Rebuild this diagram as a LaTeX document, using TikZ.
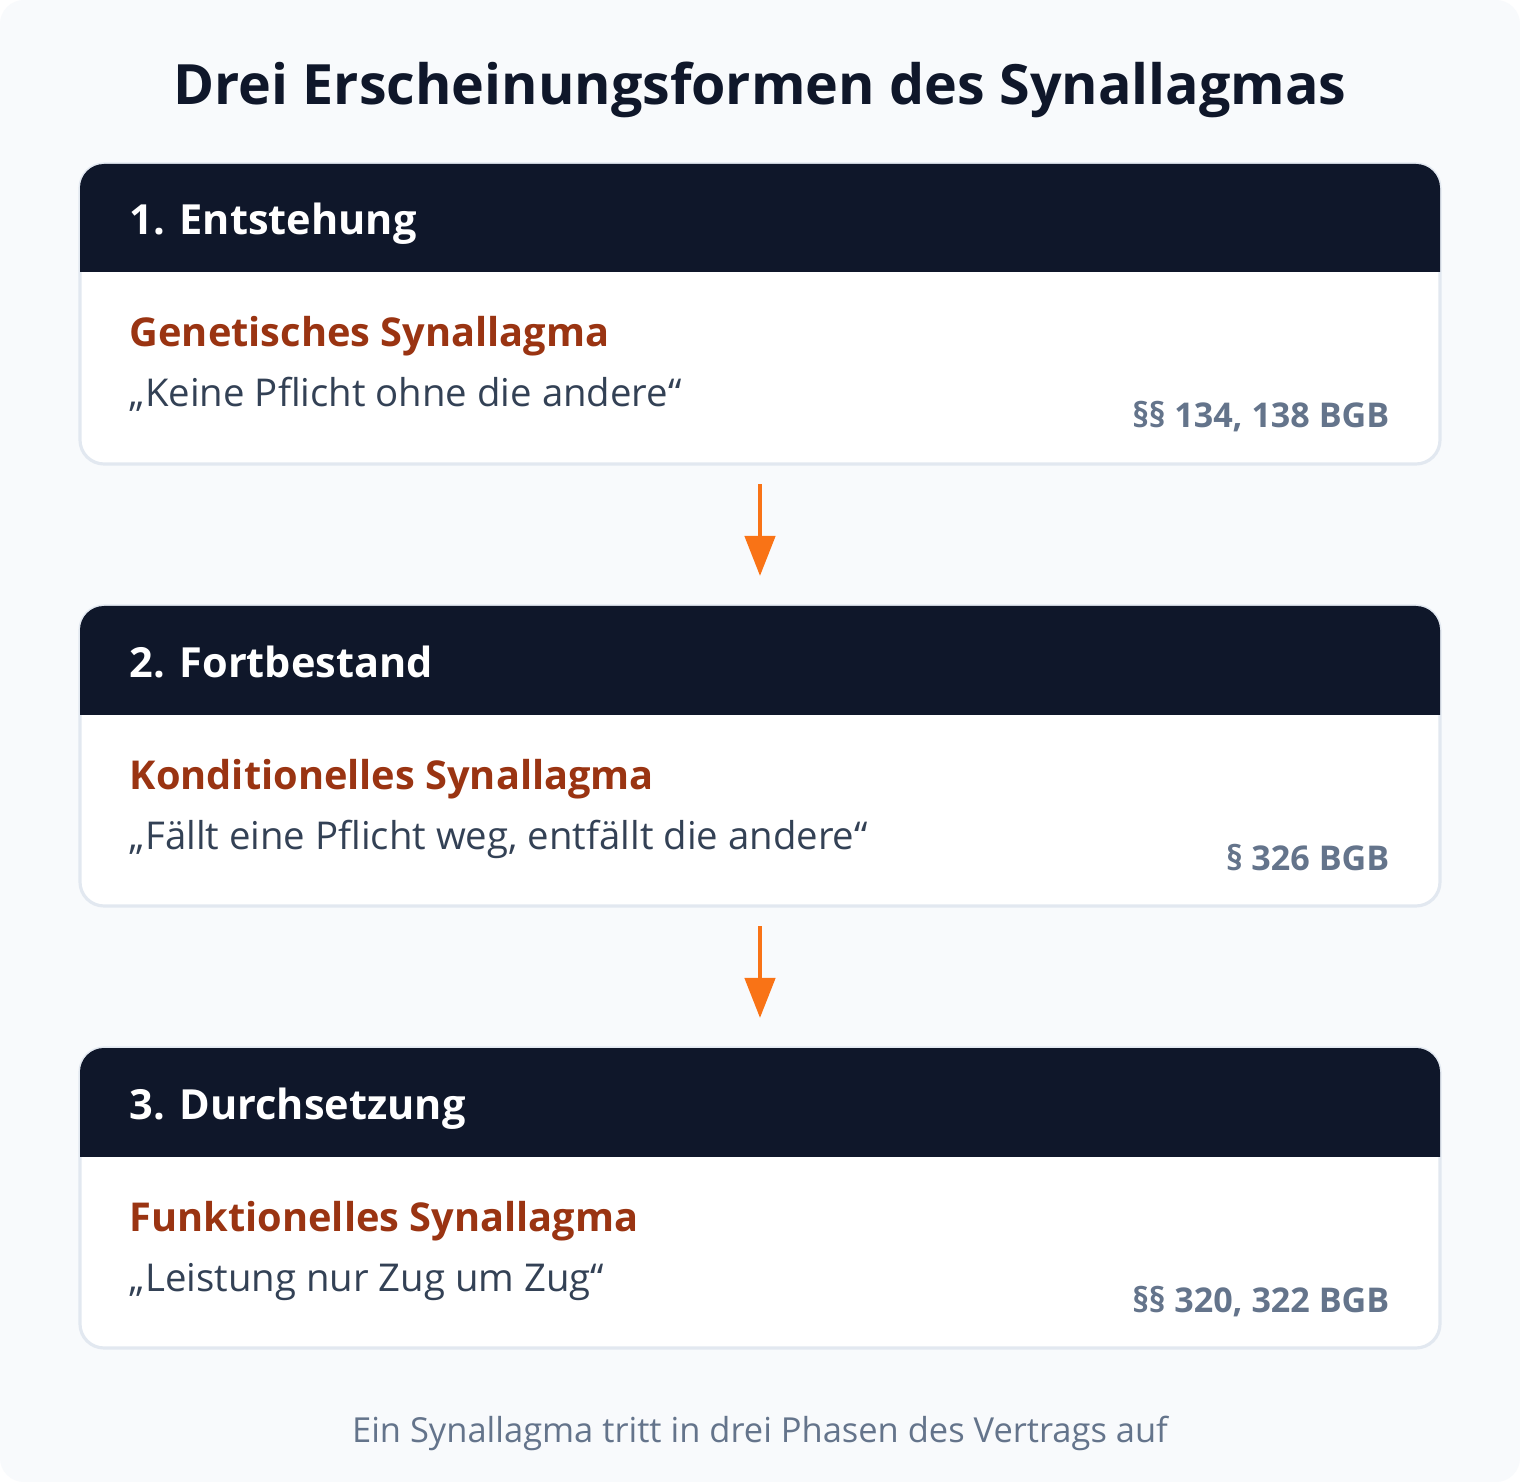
\documentclass[tikz,border=0pt]{standalone}
\usepackage{fontspec}
\setmainfont{Open Sans}
\usetikzlibrary{arrows.meta}

\definecolor{pagebg}{HTML}{F8FAFC}
\definecolor{cardline}{HTML}{E2E8F0}
\definecolor{headbg}{HTML}{0F172A}
\definecolor{subred}{HTML}{9A3412}
\definecolor{quotegray}{HTML}{334155}
\definecolor{refgray}{HTML}{64748B}
\definecolor{arroworange}{HTML}{F97316}

\tikzset{
  card/.style={draw=cardline,line width=0.9pt,fill=white,rounded corners=0.24cm},
  headtext/.style={anchor=base west,inner sep=0,text=white,font=\fontsize{11.8}{14}\selectfont\bfseries},
  subtext/.style={anchor=base west,inner sep=0,text=subred,font=\fontsize{11.3}{13}\selectfont\bfseries},
  quotetext/.style={anchor=base west,inner sep=0,text=quotegray,font=\fontsize{10.9}{13}\selectfont},
  reftext/.style={anchor=base east,inner sep=0,text=refgray,font=\fontsize{9.7}{12}\selectfont\bfseries},
  flow/.style={draw=arroworange,line width=1.3pt,-{Triangle[width=0.3cm,length=0.4cm]}}
}

\begin{document}
\begin{tikzpicture}[x=0.01cm,y=-0.01cm]
\useasboundingbox (0,0) rectangle (1520,1482);
\fill [white] (0,0) rectangle (1520,1482);
\fill [pagebg,rounded corners=0.24cm] (0,0) rectangle (1520,1482);

\node [anchor=base,inner sep=0,text=headbg,font=\fontsize{15.8}{19}\selectfont\bfseries] (title) at (760,105) {Drei Erscheinungsformen des Synallagmas};

% cards
\draw [card] (80,164) rectangle (1440,464);
\draw [card] (80,606) rectangle (1440,906);
\draw [card] (80,1048) rectangle (1440,1348);

% dark headers
\begin{scope}
\clip (80,164) rectangle (1440,272);
\fill [headbg,rounded corners=0.24cm] (80,164) rectangle (1440,464);
\end{scope}
\begin{scope}
\clip (80,606) rectangle (1440,714);
\fill [headbg,rounded corners=0.24cm] (80,606) rectangle (1440,906);
\end{scope}
\begin{scope}
\clip (80,1048) rectangle (1440,1156);
\fill [headbg,rounded corners=0.24cm] (80,1048) rectangle (1440,1348);
\end{scope}

\coordinate (bottom1) at (760,464);
\coordinate (top2) at (760,606);
\coordinate (bottom2) at (760,906);
\coordinate (top3) at (760,1048);

\node [headtext] (head1) at (129,235) {1. Entstehung};
\node [subtext] (sub1) at (129,347) {Genetisches Synallagma};
\node [quotetext] (quote1) at (129,407) {„Keine Pflicht ohne die andere“};
\node [reftext] (ref1) at (1390,428) {§§ 134, 138 BGB};

\node [headtext] (head2) at (129,677) {2. Fortbestand};
\node [subtext] (sub2) at (129,789) {Konditionelles Synallagma};
\node [quotetext] (quote2) at (129,849) {„Fällt eine Pflicht weg, entfällt die andere“};
\node [reftext] (ref2) at (1390,870) {§ 326 BGB};

\node [headtext] (head3) at (129,1119) {3. Durchsetzung};
\node [subtext] (sub3) at (129,1231) {Funktionelles Synallagma};
\node [quotetext] (quote3) at (129,1291) {„Leistung nur Zug um Zug“};
\node [reftext] (ref3) at (1390,1312) {§§ 320, 322 BGB};

% arrows between the phases
\draw [flow,shorten <=0.2cm,shorten >=0.3cm] (bottom1) -- (top2);
\draw [flow,shorten <=0.2cm,shorten >=0.3cm] (bottom2) -- (top3);

\node [anchor=base,inner sep=0,text=refgray,font=\fontsize{9.8}{12}\selectfont] (footer) at (760,1442) {Ein Synallagma tritt in drei Phasen des Vertrags auf};
\end{tikzpicture}
\end{document}
